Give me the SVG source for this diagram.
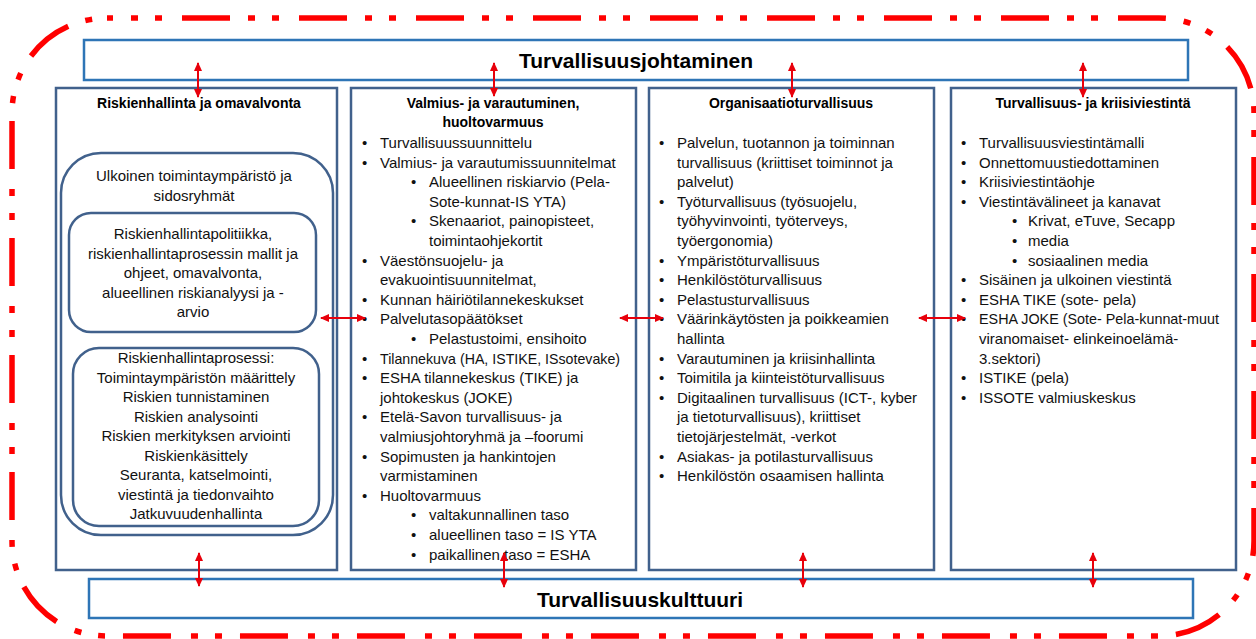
<svg xmlns="http://www.w3.org/2000/svg" width="1256" height="639" viewBox="0 0 1256 639">
<style>
.t{font-family:"Liberation Sans",Arial,sans-serif;font-size:15px;fill:#111}
.c{text-anchor:middle}
.h{font-family:"Liberation Sans",Arial,sans-serif;font-size:14px;font-weight:bold;fill:#000;text-anchor:middle}
.big{font-family:"Liberation Sans",Arial,sans-serif;font-size:21px;font-weight:bold;fill:#000;text-anchor:middle}
.band{fill:#fff;stroke:#2E75B6;stroke-width:2.5}
.col{fill:#fff;stroke:#41618C;stroke-width:2.5}
.rnd{fill:none;stroke:#41618C;stroke-width:2.5}
.arr{stroke:#E8000B;stroke-width:2;fill:none;marker-start:url(#ah);marker-end:url(#ah)}
</style>
<defs>
<marker id="ah" markerUnits="userSpaceOnUse" markerWidth="9" markerHeight="8" refX="8" refY="4" orient="auto-start-reverse">
<path d="M0,0 L9,4 L0,8 z" fill="#E8000B"/>
</marker>
</defs>
<rect x="12" y="18" width="1242" height="618" rx="95" ry="95" fill="none" stroke="#FF0000" stroke-width="5.5" stroke-dasharray="48 18 7 17 7 20" stroke-dashoffset="42"/>

<g id="top"><rect class="band" x="84" y="40" width="1104" height="40"/><text class="big" x="636" y="68">Turvallisuusjohtaminen</text></g>
<g id="bottom"><rect class="band" x="89" y="579" width="1104" height="39"/><text class="big" x="640" y="607">Turvallisuuskulttuuri</text></g>

<g id="col1">
<rect class="col" x="56" y="88" width="281" height="482"/>
<text class="h" x="199" y="108">Riskienhallinta ja omavalvonta</text>
<rect class="rnd" x="61" y="153" width="272" height="382" rx="40" ry="40"/>
<text class="t c" x="194" y="181">Ulkoinen toimintaympäristö ja</text>
<text class="t c" x="194" y="200.5">sidosryhmät</text>
<rect class="rnd" x="69" y="213" width="247" height="119" rx="22" ry="22"/>
<text class="t c" x="193" y="239">Riskienhallintapolitiikka,</text>
<text class="t c" x="193" y="258.5">riskienhallintaprosessin mallit ja</text>
<text class="t c" x="193" y="278">ohjeet, omavalvonta,</text>
<text class="t c" x="193" y="297.5">alueellinen riskianalyysi ja -</text>
<text class="t c" x="193" y="317">arvio</text>
<rect class="rnd" x="73" y="348" width="246" height="178" rx="26" ry="26"/>
<text class="t c" x="196" y="363">Riskienhallintaprosessi:</text>
<text class="t c" x="196" y="382.5">Toimintaympäristön määrittely</text>
<text class="t c" x="196" y="402">Riskien tunnistaminen</text>
<text class="t c" x="196" y="421.5">Riskien analysointi</text>
<text class="t c" x="196" y="441">Riskien merkityksen arviointi</text>
<text class="t c" x="196" y="460.5">Riskienkäsittely</text>
<text class="t c" x="196" y="480">Seuranta, katselmointi,</text>
<text class="t c" x="196" y="499.5">viestintä ja tiedonvaihto</text>
<text class="t c" x="196" y="519">Jatkuvuudenhallinta</text>
</g>

<g id="col2">
<rect class="col" x="351" y="88" width="285" height="482"/>
<text class="h" x="493" y="108">Valmius- ja varautuminen,</text>
<text class="h" x="493" y="127">huoltovarmuus</text>
<g class="t">
<text x="362" y="148">•</text><text x="380" y="148">Turvallisuussuunnittelu</text>
<text x="362" y="167.6">•</text><text x="380" y="167.6">Valmius- ja varautumissuunnitelmat</text>
<text x="411" y="187.2">•</text><text x="429" y="187.2">Alueellinen riskiarvio (Pela-</text>
<text x="429" y="206.8">Sote-kunnat-IS YTA)</text>
<text x="411" y="226.4">•</text><text x="429" y="226.4">Skenaariot, painopisteet,</text>
<text x="429" y="246">toimintaohjekortit</text>
<text x="362" y="265.6">•</text><text x="380" y="265.6">Väestönsuojelu- ja</text>
<text x="380" y="285.2">evakuointisuunnitelmat,</text>
<text x="362" y="304.8">•</text><text x="380" y="304.8">Kunnan häiriötilannekeskukset</text>
<text x="362" y="324.4">•</text><text x="380" y="324.4">Palvelutasopäätökset</text>
<text x="411" y="344">•</text><text x="429" y="344">Pelastustoimi, ensihoito</text>
<text x="362" y="363.6">•</text><text x="380" y="363.6" textLength="240" lengthAdjust="spacingAndGlyphs">Tilannekuva (HA, ISTIKE, ISsotevake)</text>
<text x="362" y="383.2">•</text><text x="380" y="383.2">ESHA tilannekeskus (TIKE) ja</text>
<text x="380" y="402.8">johtokeskus (JOKE)</text>
<text x="362" y="422.4">•</text><text x="380" y="422.4">Etelä-Savon turvallisuus- ja</text>
<text x="380" y="442">valmiusjohtoryhmä ja –foorumi</text>
<text x="362" y="461.6">•</text><text x="380" y="461.6">Sopimusten ja hankintojen</text>
<text x="380" y="481.2">varmistaminen</text>
<text x="362" y="500.8">•</text><text x="380" y="500.8">Huoltovarmuus</text>
<text x="411" y="520.4">•</text><text x="429" y="520.4">valtakunnallinen taso</text>
<text x="411" y="540">•</text><text x="429" y="540">alueellinen taso =  IS YTA</text>
<text x="411" y="559.6">•</text><text x="429" y="559.6">paikallinen taso = ESHA</text>
</g>
</g>

<g id="col3">
<rect class="col" x="649" y="88" width="285" height="482"/>
<text class="h" x="791" y="108">Organisaatioturvallisuus</text>
<g class="t">
<text x="659" y="148">•</text><text x="677" y="148">Palvelun, tuotannon ja toiminnan</text>
<text x="677" y="167.6">turvallisuus (kriittiset toiminnot ja</text>
<text x="677" y="187.2">palvelut)</text>
<text x="659" y="206.8">•</text><text x="677" y="206.8">Työturvallisuus (työsuojelu,</text>
<text x="677" y="226.4">työhyvinvointi, työterveys,</text>
<text x="677" y="246">työergonomia)</text>
<text x="659" y="265.6">•</text><text x="677" y="265.6">Ympäristöturvallisuus</text>
<text x="659" y="285.2">•</text><text x="677" y="285.2">Henkilöstöturvallisuus</text>
<text x="659" y="304.8">•</text><text x="677" y="304.8">Pelastusturvallisuus</text>
<text x="659" y="324.4">•</text><text x="677" y="324.4">Väärinkäytösten ja poikkeamien</text>
<text x="677" y="344">hallinta</text>
<text x="659" y="363.6">•</text><text x="677" y="363.6">Varautuminen ja kriisinhallinta</text>
<text x="659" y="383.2">•</text><text x="677" y="383.2">Toimitila ja kiinteistöturvallisuus</text>
<text x="659" y="402.8">•</text><text x="677" y="402.8">Digitaalinen turvallisuus (ICT-, kyber</text>
<text x="677" y="422.4">ja tietoturvallisuus), kriittiset</text>
<text x="677" y="442">tietojärjestelmät, -verkot</text>
<text x="659" y="461.6">•</text><text x="677" y="461.6">Asiakas- ja potilasturvallisuus</text>
<text x="659" y="481.2">•</text><text x="677" y="481.2">Henkilöstön osaamisen hallinta</text>
</g>
</g>

<g id="col4">
<rect class="col" x="951" y="88" width="285" height="482"/>
<text class="h" x="1093" y="108">Turvallisuus- ja kriisiviestintä</text>
<g class="t">
<text x="961" y="148">•</text><text x="979" y="148">Turvallisuusviestintämalli</text>
<text x="961" y="167.6">•</text><text x="979" y="167.6">Onnettomuustiedottaminen</text>
<text x="961" y="187.2">•</text><text x="979" y="187.2">Kriisiviestintäohje</text>
<text x="961" y="206.8">•</text><text x="979" y="206.8">Viestintävälineet ja kanavat</text>
<text x="1012" y="226.4">•</text><text x="1028" y="226.4">Krivat, eTuve, Secapp</text>
<text x="1012" y="246">•</text><text x="1028" y="246">media</text>
<text x="1012" y="265.6">•</text><text x="1028" y="265.6">sosiaalinen media</text>
<text x="961" y="285.2">•</text><text x="979" y="285.2">Sisäinen ja ulkoinen viestintä</text>
<text x="961" y="304.8">•</text><text x="979" y="304.8">ESHA TIKE (sote- pela)</text>
<text x="961" y="324.4">•</text><text x="979" y="324.4" textLength="240" lengthAdjust="spacingAndGlyphs">ESHA JOKE (Sote- Pela-kunnat-muut</text>
<text x="979" y="344">viranomaiset- elinkeinoelämä-</text>
<text x="979" y="363.6">3.sektori)</text>
<text x="961" y="383.2">•</text><text x="979" y="383.2">ISTIKE (pela)</text>
<text x="961" y="402.8">•</text><text x="979" y="402.8">ISSOTE valmiuskeskus</text>
</g>
</g>

<g id="connectors">
<line class="arr" x1="198" y1="63" x2="198" y2="97"/>
<line class="arr" x1="494" y1="63" x2="494" y2="96"/>
<line class="arr" x1="792" y1="63" x2="792" y2="97"/>
<line class="arr" x1="1083" y1="63" x2="1083" y2="97"/>
<line class="arr" x1="199" y1="553" x2="199" y2="586"/>
<line class="arr" x1="504" y1="553" x2="504" y2="587"/>
<line class="arr" x1="803" y1="553" x2="803" y2="587"/>
<line class="arr" x1="1093" y1="553" x2="1093" y2="587"/>
<line class="arr" x1="321" y1="318" x2="365" y2="318"/>
<line class="arr" x1="620" y1="318" x2="663" y2="318"/>
<line class="arr" x1="919" y1="318" x2="965" y2="318"/>
</g>
</svg>
